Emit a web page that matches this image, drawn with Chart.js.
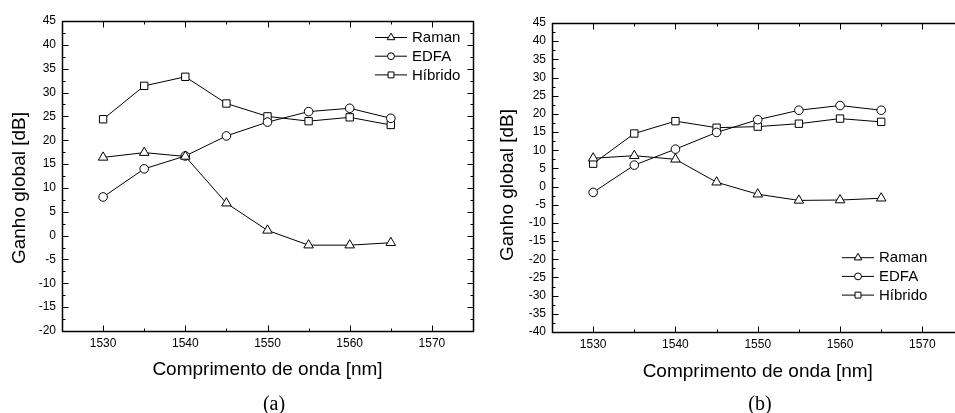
<!DOCTYPE html>
<html>
<head>
<meta charset="utf-8">
<script src="https://cdn.jsdelivr.net/npm/chart.js@4.4.1/dist/chart.umd.min.js"></script>
<style>
  html, body { margin: 0; padding: 0; background: #fff; overflow: hidden; }
  body { width: 955px; height: 413px; position: relative; }
  canvas { position: absolute; top: 0; }
  .cap { position: absolute; width: 100px; text-align: center; top: 392px;
         font: 20px "Liberation Serif", "Times New Roman", serif; line-height: 22px; color: #000; }
</style>
</head>
<body>
<canvas id="chartA" width="480" height="413" style="left:0px;width:480px;height:413px"></canvas>
<canvas id="chartB" width="490" height="413" style="left:480px;width:490px;height:413px"></canvas>
<div class="cap" style="left:224px">(a)</div>
<div class="cap" style="left:710px">(b)</div>

<script>
// ---------- DATA ----------
const wavelengths = [1530, 1535, 1540, 1545, 1550, 1555, 1560, 1565];
const seriesNames = ["Raman", "EDFA", "Híbrido"];
const xTicks = [1530, 1540, 1550, 1560, 1570];

// (a)
const ramanA   = [16.4, 17.4, 16.6, 6.8, 1.1, -2.0, -2.0, -1.5];
const edfaA    = [8.1, 14.0, 16.7, 20.9, 23.8, 26.0, 26.7, 24.6];
const hibridoA = [24.4, 31.4, 33.3, 27.7, 25.0, 24.0, 24.8, 23.2];

// (b)
const ramanB   = [7.8, 8.5, 7.5, 1.2, -2.1, -3.8, -3.7, -3.2];
const edfaB    = [-1.6, 5.9, 10.3, 14.9, 18.4, 21.0, 22.3, 21.0];
const hibridoB = [6.3, 14.6, 18.0, 16.2, 16.5, 17.3, 18.7, 17.8];

const xTitle = "Comprimento de onda [nm]";
const yTitle = "Ganho global [dB]";

const FONT = '"Liberation Sans", Arial, sans-serif';
const markers = ["triangle", "circle", "rect"];
const markerRadius = [5.5, 4.3, 5.2];

// ---------- FRAME, INWARD TICKS, Y TITLE, LEGEND ----------
function minorValues(scale) {
  const majors = scale.ticks.map(t => t.value);
  const step = majors[1] - majors[0];
  const out = [];
  for (let v = majors[0] - step / 2; v <= scale.max + 1e-9; v += step) {
    if (v >= scale.min - 1e-9) out.push(v);
  }
  return out;
}

const framePlugin = {
  id: "frameTicks",
  afterDraw(chart, args, opts) {
    const { ctx, chartArea: a, scales: { x, y } } = chart;
    const L = Math.round(a.left) + 0.5, R = Math.round(a.right) + 0.5;
    const T = Math.round(a.top) + 0.5, B = Math.round(a.bottom) + 0.5;
    ctx.save();
    ctx.strokeStyle = "#000";

    // ticks (inward, all four sides)
    ctx.lineWidth = 1;
    ctx.beginPath();
    const tickX = (v, len) => {
      const px = Math.round(x.getPixelForValue(v)) + 0.5;
      ctx.moveTo(px, B); ctx.lineTo(px, B - len);
      ctx.moveTo(px, T); ctx.lineTo(px, T + len);
    };
    const tickY = (v, len) => {
      const py = Math.round(y.getPixelForValue(v)) + 0.5;
      ctx.moveTo(L, py); ctx.lineTo(L + len, py);
      ctx.moveTo(R, py); ctx.lineTo(R - len, py);
    };
    x.ticks.forEach(t => tickX(t.value, 6));
    minorValues(x).forEach(v => tickX(v, 3));
    y.ticks.forEach(t => tickY(t.value, 6));
    minorValues(y).forEach(v => tickY(v, 3));
    ctx.stroke();

    // frame
    ctx.lineWidth = 1.5;
    ctx.strokeRect(L, T, R - L, B - T);

    // y title
    ctx.fillStyle = "#000";
    ctx.font = "19px " + FONT;
    ctx.textAlign = "center";
    ctx.textBaseline = "middle";
    ctx.translate(a.left - opts.yTitleDx, a.top + opts.yTitleDy);
    ctx.rotate(-Math.PI / 2);
    ctx.fillText(yTitle, 0, 0);
    ctx.restore();

    // legend  —marker— label
    ctx.save();
    ctx.font = "15px " + FONT;
    ctx.textAlign = "left";
    ctx.textBaseline = "middle";
    chart.data.datasets.forEach((ds, i) => {
      const lx = a.left + opts.legendX;
      const ly = a.top + opts.legendY + i * 18.7;
      ctx.strokeStyle = "#000";
      ctx.lineWidth = 1;
      ctx.beginPath();
      ctx.moveTo(lx, ly); ctx.lineTo(lx + 32, ly);
      ctx.stroke();
      ctx.fillStyle = "#fff";
      Chart.helpers.drawPoint(ctx, {
        pointStyle: ds.pointStyle, radius: ds.pointRadius * 0.8, rotation: 0, borderWidth: 1
      }, lx + 16, ly);
      ctx.fillStyle = "#000";
      ctx.fillText(ds.label, lx + 37, ly + 0.5);
    });
    ctx.restore();
  }
};

function makeDatasets(values) {
  return values.map((vals, i) => ({
    label: seriesNames[i],
    data: wavelengths.map((w, j) => ({ x: w, y: vals[j] })),
    borderColor: "#000",
    borderWidth: 1,
    backgroundColor: "#fff",
    pointStyle: markers[i],
    pointRadius: markerRadius[i],
    pointBackgroundColor: "#fff",
    pointBorderColor: "#000",
    pointBorderWidth: 1,
    tension: 0,
    fill: false
  }));
}

function makeChart(id, values, yMin, cfg) {
  return new Chart(document.getElementById(id), {
    type: "line",
    data: { datasets: makeDatasets(values) },
    options: {
      responsive: false,
      animation: false,
      devicePixelRatio: 1,
      layout: { padding: { top: cfg.top, right: cfg.right, left: 0, bottom: 0 } },
      plugins: {
        legend: { display: false },
        tooltip: { enabled: false },
        frameTicks: cfg.frame
      },
      scales: {
        x: {
          type: "linear",
          min: 1525, max: 1575,
          afterBuildTicks(s) { s.ticks = xTicks.map(v => ({ value: v })); },
          ticks: {
            autoSkip: false, maxRotation: 0,
            padding: 5, color: "#000", font: { family: FONT, size: 12 },
            callback: v => String(v)
          },
          grid: { display: false, drawTicks: false },
          border: { display: false },
          title: {
            display: true, text: xTitle, color: "#000",
            font: { family: FONT, size: 19 },
            padding: { top: 0, bottom: cfg.xTitlePad }
          },
          afterFit(s) { s.height = cfg.xHeight; }
        },
        y: {
          min: yMin, max: 45,
          ticks: {
            stepSize: 5, autoSkip: false, padding: 6, color: "#000",
            font: { family: FONT, size: 12 },
            callback: v => String(v)
          },
          grid: { display: false, drawTicks: false },
          border: { display: false },
          afterFit(s) { s.width = cfg.yWidth; }
        }
      }
    },
    plugins: [framePlugin]
  });
}

makeChart("chartA", [ramanA, edfaA, hibridoA], -20, {
  top: 21, right: 7, yWidth: 62, xHeight: 82, xTitlePad: 32,
  frame: { yTitleDx: 42, yTitleDy: 167, legendX: 313, legendY: 16.5 }
});

makeChart("chartB", [ramanB, edfaB, hibridoB], -40, {
  top: 23, right: 4, yWidth: 72, xHeight: 81, xTitlePad: 30,
  frame: { yTitleDx: 44, yTitleDy: 162, legendX: 290, legendY: 234.7 }
});
</script>
</body>
</html>
